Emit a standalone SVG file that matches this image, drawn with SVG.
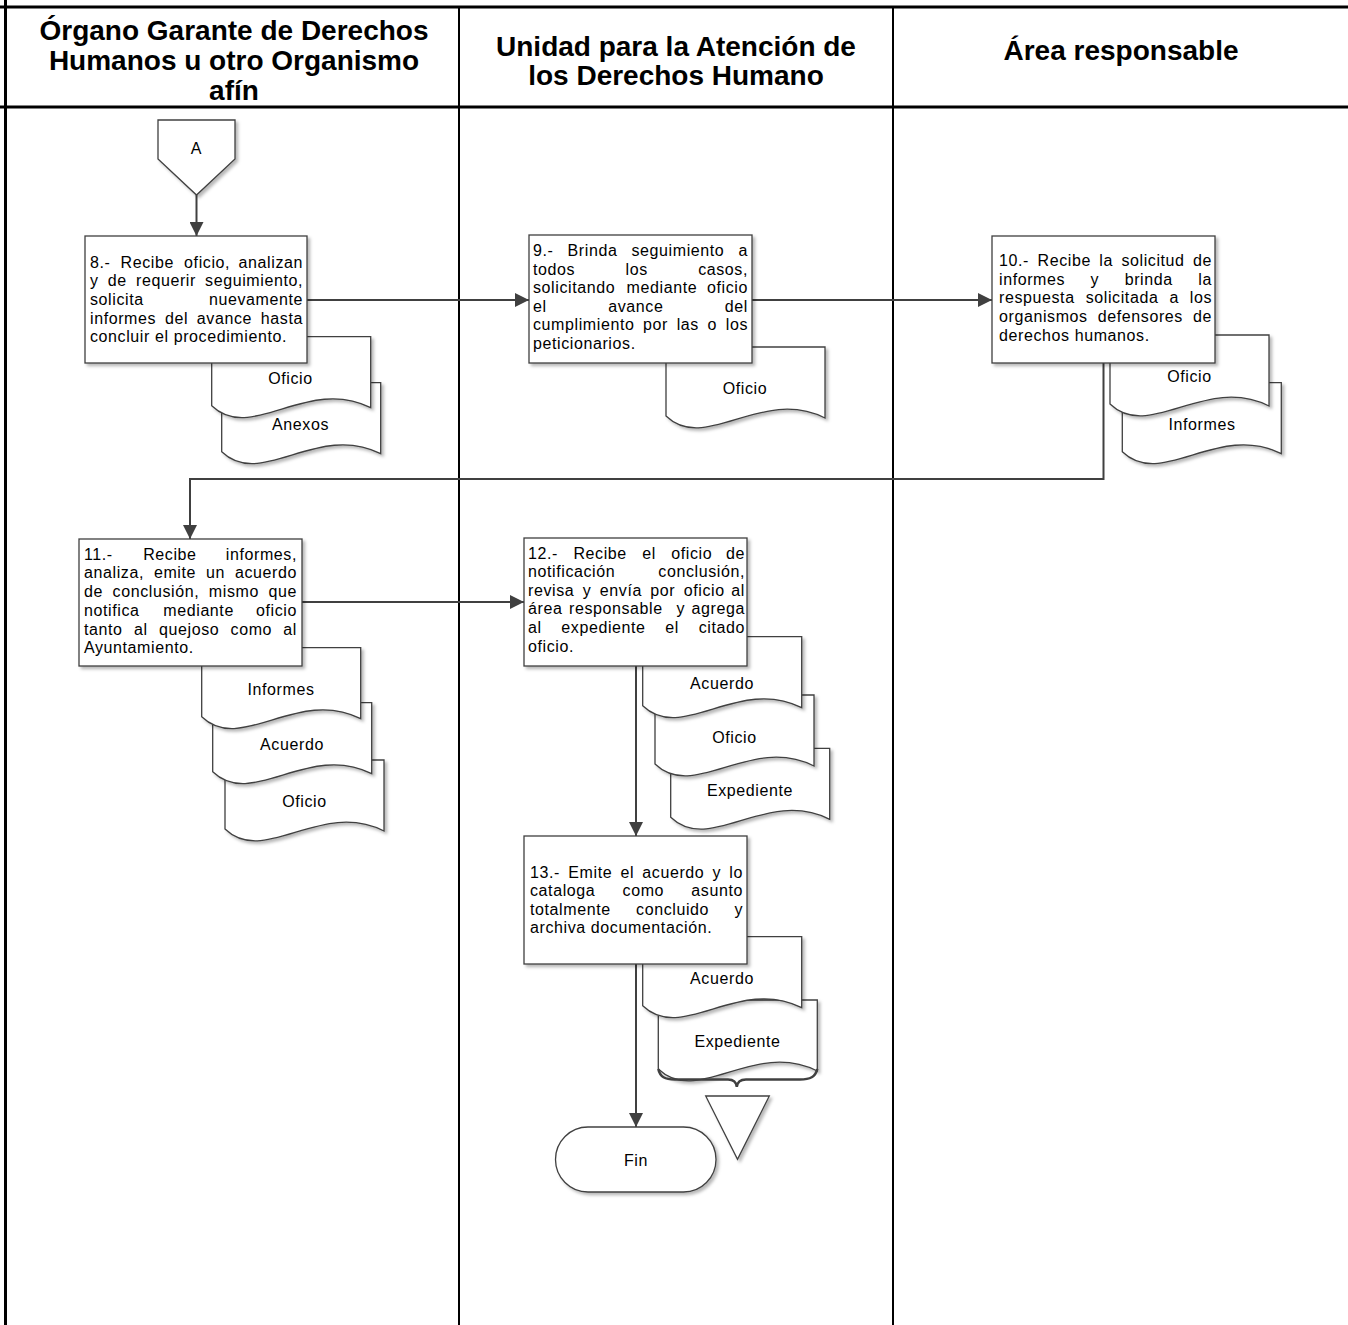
<svg xmlns="http://www.w3.org/2000/svg" width="1348" height="1325" viewBox="0 0 1348 1325">
<style>
.lane{stroke:#000;fill:none}
.hdr{font-family:"Liberation Sans",Arial,sans-serif;font-weight:bold;font-size:28px;text-anchor:middle;fill:#000}
.shape{fill:#fff;stroke:#404040;stroke-width:1.3;filter:url(#sh)}
.t{font-family:"Liberation Sans",Arial,sans-serif;font-size:16px;letter-spacing:0.6px;fill:#000}
.e{text-anchor:end}
.c{text-anchor:middle}
.conn{fill:none;stroke:#404040;stroke-width:2;marker-end:url(#arr)}
.brace{fill:none;stroke:#404040;stroke-width:2.5}
</style>
<defs>
<filter id="sh" x="-10%" y="-10%" width="130%" height="130%">
<feDropShadow dx="2.5" dy="2.5" stdDeviation="1.5" flood-color="#000" flood-opacity="0.28"/>
</filter>
<marker id="arr" markerUnits="userSpaceOnUse" viewBox="0 0 14 14" refX="14" refY="7" markerWidth="14" markerHeight="14" orient="auto">
<path d="M0,0 L14,7 L0,14 Z" fill="#404040"/>
</marker>
</defs>
<rect width="1348" height="1325" fill="#fff"/>
<g id="table">
<line class="lane" x1="0" y1="7" x2="1348" y2="7" stroke-width="3"/>
<line class="lane" x1="0" y1="107" x2="1348" y2="107" stroke-width="3"/>
<line class="lane" x1="5.5" y1="0" x2="5.5" y2="1325" stroke-width="3"/>
<line class="lane" x1="459" y1="7" x2="459" y2="1325" stroke-width="2"/>
<line class="lane" x1="893" y1="7" x2="893" y2="1325" stroke-width="2"/>
<text class="hdr" x="234" y="40">Órgano Garante de Derechos</text>
<text class="hdr" x="234" y="69.5">Humanos u otro Organismo</text>
<text class="hdr" x="234" y="99.5">afín</text>
<text class="hdr" x="676" y="56">Unidad para la Atención de</text>
<text class="hdr" x="676" y="85">los Derechos Humano</text>
<text class="hdr" x="1121" y="60">Área responsable</text>
</g>
<g id="connectors">
<path class="conn" d="M196.5,195 V236"/>
<path class="conn" d="M307,300 H529"/>
<path class="conn" d="M752,300 H992"/>
<path class="conn" d="M1103.5,363 V479 H190 V539"/>
<path class="conn" d="M302,602 H524"/>
<path class="conn" d="M636,666 V836"/>
<path class="conn" d="M636,964 V1127"/>
</g>
<g id="node-A">
<polygon class="shape" points="158,120 235,120 235,159 196.5,195 158,159"/>
<text class="t c" x="196.5" y="154">A</text>
</g>
<g id="doc-8-anexos">
<path class="shape" d="M221.7,382.7 H380.7 V453.7 C317.1,421.7 261.45,489.7 221.7,451.7 Z"/>
<text class="t c" x="300.5" y="429.5">Anexos</text>
</g>
<g id="doc-8-oficio">
<path class="shape" d="M211.7,336.7 H370.7 V407.7 C307.1,375.7 251.45,443.7 211.7,405.7 Z"/>
<text class="t c" x="290.5" y="383.5">Oficio</text>
</g>
<g id="node-8">
<rect class="shape" x="85" y="236" width="222" height="127"/>
<text class="t" y="267.7"><tspan x="90">8.-</tspan><tspan x="120.6">Recibe</tspan><tspan x="184.1">oficio,</tspan></text>
<text class="t e" x="303" y="267.7">analizan</text>
<text class="t" y="286.3"><tspan x="90">y</tspan><tspan x="107.8">de</tspan><tspan x="136">requerir</tspan></text>
<text class="t e" x="303" y="286.3">seguimiento,</text>
<text class="t" x="90" y="305">solicita</text>
<text class="t e" x="303" y="305">nuevamente</text>
<text class="t" y="323.7"><tspan x="90">informes</tspan><tspan x="164.9">del</tspan><tspan x="196.8">avance</tspan></text>
<text class="t e" x="303" y="323.7">hasta</text>
<text class="t" x="90" y="342.3">concluir el procedimiento.</text>
</g>
<g id="doc-9-oficio">
<path class="shape" d="M666,347 H825 V418 C761.4,386 705.75,454 666,416 Z"/>
<text class="t c" x="745" y="394">Oficio</text>
</g>
<g id="node-9">
<rect class="shape" x="529" y="235" width="223" height="128"/>
<text class="t" y="256"><tspan x="533">9.-</tspan><tspan x="567.6">Brinda</tspan><tspan x="631.5">seguimiento</tspan></text>
<text class="t e" x="748" y="256">a</text>
<text class="t" y="274.5"><tspan x="533">todos</tspan><tspan x="625.5">los</tspan></text>
<text class="t e" x="748" y="274.5">casos,</text>
<text class="t" y="293"><tspan x="533">solicitando</tspan><tspan x="626.6">mediante</tspan></text>
<text class="t e" x="748" y="293">oficio</text>
<text class="t" y="311.5"><tspan x="533">el</tspan><tspan x="608.2">avance</tspan></text>
<text class="t e" x="748" y="311.5">del</text>
<text class="t" y="330"><tspan x="533">cumplimiento</tspan><tspan x="643.1">por</tspan><tspan x="676.7">las</tspan><tspan x="707.6">o</tspan></text>
<text class="t e" x="748" y="330">los</text>
<text class="t" x="533" y="348.5">peticionarios.</text>
</g>
<g id="doc-10-informes">
<path class="shape" d="M1122.3,382.7 H1281.3 V453.7 C1217.7,421.7 1162.05,489.7 1122.3,451.7 Z"/>
<text class="t c" x="1202" y="429.5">Informes</text>
</g>
<g id="doc-10-oficio">
<path class="shape" d="M1110,335 H1269 V406 C1205.4,374 1149.75,442 1110,404 Z"/>
<text class="t c" x="1189.5" y="381.5">Oficio</text>
</g>
<g id="node-10">
<rect class="shape" x="992" y="236" width="223" height="127"/>
<text class="t" y="266"><tspan x="999">10.-</tspan><tspan x="1037.5">Recibe</tspan><tspan x="1099.3">la</tspan><tspan x="1121.4">solicitud</tspan></text>
<text class="t e" x="1212" y="266">de</text>
<text class="t" y="284.7"><tspan x="999">informes</tspan><tspan x="1090.6">y</tspan><tspan x="1124.7">brinda</tspan></text>
<text class="t e" x="1212" y="284.7">la</text>
<text class="t" y="303.3"><tspan x="999">respuesta</tspan><tspan x="1085.7">solicitada</tspan><tspan x="1169.4">a</tspan></text>
<text class="t e" x="1212" y="303.3">los</text>
<text class="t" y="322"><tspan x="999">organismos</tspan><tspan x="1097.8">defensores</tspan></text>
<text class="t e" x="1212" y="322">de</text>
<text class="t" x="999" y="340.7">derechos humanos.</text>
</g>
<g id="doc-11-oficio">
<path class="shape" d="M225,760 H384 V831 C320.4,799 264.75,867 225,829 Z"/>
<text class="t c" x="304.5" y="806.5">Oficio</text>
</g>
<g id="doc-11-acuerdo">
<path class="shape" d="M212.7,702.7 H371.7 V773.7 C308.1,741.7 252.45,809.7 212.7,771.7 Z"/>
<text class="t c" x="292" y="749.7">Acuerdo</text>
</g>
<g id="doc-11-informes">
<path class="shape" d="M201.7,647.7 H360.7 V718.7 C297.1,686.7 241.45,754.7 201.7,716.7 Z"/>
<text class="t c" x="281" y="694.7">Informes</text>
</g>
<g id="node-11">
<rect class="shape" x="79" y="539" width="223" height="127"/>
<text class="t" y="559.5"><tspan x="84">11.-</tspan><tspan x="143.2">Recibe</tspan></text>
<text class="t e" x="297" y="559.5">informes,</text>
<text class="t" y="578.3"><tspan x="84">analiza,</tspan><tspan x="153.9">emite</tspan><tspan x="206">un</tspan></text>
<text class="t e" x="297" y="578.3">acuerdo</text>
<text class="t" y="597"><tspan x="84">de</tspan><tspan x="112.6">conclusión,</tspan><tspan x="208.8">mismo</tspan></text>
<text class="t e" x="297" y="597">que</text>
<text class="t" y="615.8"><tspan x="84">notifica</tspan><tspan x="163.3">mediante</tspan></text>
<text class="t e" x="297" y="615.8">oficio</text>
<text class="t" y="634.6"><tspan x="84">tanto</tspan><tspan x="134">al</tspan><tspan x="159">quejoso</tspan><tspan x="230.6">como</tspan></text>
<text class="t e" x="297" y="634.6">al</text>
<text class="t" x="84" y="653.4">Ayuntamiento.</text>
</g>
<g id="doc-12-expediente">
<path class="shape" d="M670.7,748.3 H829.7 V819.3 C766.1,787.3 710.45,855.3 670.7,817.3 Z"/>
<text class="t c" x="750" y="795.5">Expediente</text>
</g>
<g id="doc-12-oficio">
<path class="shape" d="M655,695 H814 V766 C750.4,734 694.75,802 655,764 Z"/>
<text class="t c" x="734.5" y="742.5">Oficio</text>
</g>
<g id="doc-12-acuerdo">
<path class="shape" d="M642.7,636.7 H801.7 V707.7 C738.1,675.7 682.45,743.7 642.7,705.7 Z"/>
<text class="t c" x="722" y="688.5">Acuerdo</text>
</g>
<g id="node-12">
<rect class="shape" x="524" y="538" width="223" height="128"/>
<text class="t" y="558.5"><tspan x="528">12.-</tspan><tspan x="573.4">Recibe</tspan><tspan x="642.2">el</tspan><tspan x="671.2">oficio</tspan></text>
<text class="t e" x="745" y="558.5">de</text>
<text class="t" x="528" y="577.1">notificación</text>
<text class="t e" x="745" y="577.1">conclusión,</text>
<text class="t" y="595.7"><tspan x="528">revisa</tspan><tspan x="582.7">y</tspan><tspan x="599.8">envía</tspan><tspan x="650.3">por</tspan><tspan x="683.7">oficio</tspan></text>
<text class="t e" x="745" y="595.7">al</text>
<text class="t" y="614.3"><tspan x="528">área</tspan><tspan x="569">responsable</tspan><tspan x="676.5">y</tspan></text>
<text class="t e" x="745" y="614.3">agrega</text>
<text class="t" y="632.9"><tspan x="528">al</tspan><tspan x="561.3">expediente</tspan><tspan x="665.3">el</tspan></text>
<text class="t e" x="745" y="632.9">citado</text>
<text class="t" x="528" y="651.5">oficio.</text>
</g>
<g id="doc-13-expediente">
<path class="shape" d="M658.3,1000 H817.3 V1071 C753.7,1039 698.05,1107 658.3,1069 Z"/>
<path class="brace" d="M658.3,1069 C660,1077 665,1079.5 675,1079.5 H728 C733,1079.5 736.3,1082 736.8,1087 C737.3,1082 740.6,1079.5 746,1079.5 H800 C810,1079.5 815.5,1077 817.3,1069"/>
<text class="t c" x="737.5" y="1047.3">Expediente</text>
</g>
<g id="doc-13-acuerdo">
<path class="shape" d="M642.7,936.7 H801.7 V1007.7 C738.1,975.7 682.45,1043.7 642.7,1005.7 Z"/>
<text class="t c" x="722" y="984">Acuerdo</text>
</g>
<g id="node-13">
<rect class="shape" x="524" y="836" width="223" height="128"/>
<text class="t" y="877.5"><tspan x="530">13.-</tspan><tspan x="568.3">Emite</tspan><tspan x="620.4">el</tspan><tspan x="642.3">acuerdo</tspan><tspan x="712.5">y</tspan></text>
<text class="t e" x="743" y="877.5">lo</text>
<text class="t" y="896.1"><tspan x="530">cataloga</tspan><tspan x="622.6">como</tspan></text>
<text class="t e" x="743" y="896.1">asunto</text>
<text class="t" y="914.7"><tspan x="530">totalmente</tspan><tspan x="636.1">concluido</tspan></text>
<text class="t e" x="743" y="914.7">y</text>
<text class="t" x="530" y="933.3">archiva documentación.</text>
</g>
<g id="node-archivo">
<polygon class="shape" points="705.7,1096 769.3,1096 737.5,1159.3"/>
</g>
<g id="node-fin">
<rect class="shape" x="555.5" y="1127" width="160.5" height="65" rx="32.5" ry="32.5"/>
<text class="t c" x="636" y="1165.5">Fin</text>
</g>
</svg>
